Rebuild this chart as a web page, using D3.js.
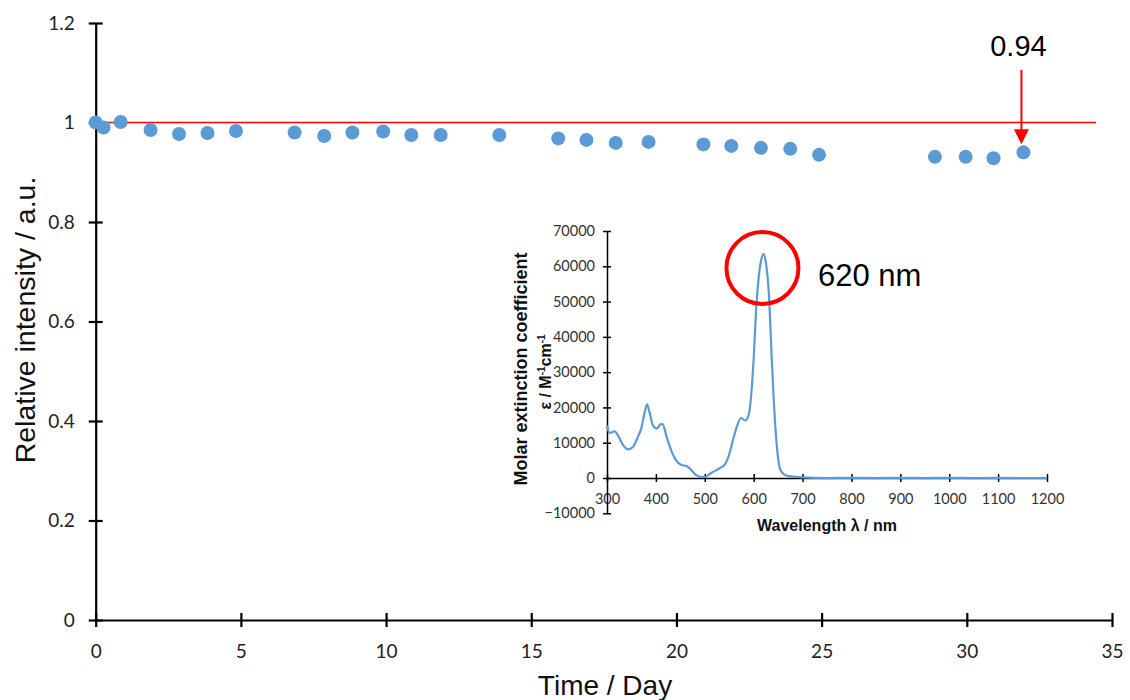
<!DOCTYPE html>
<html>
<head>
<meta charset="utf-8">
<script src="https://cdn.jsdelivr.net/npm/d3@7"></script>
<style>
  html, body { margin: 0; padding: 0; background: #fff; }
  svg { display: block; }
</style>
</head>
<body>
<svg id="chart" width="1130" height="700"></svg>
<script>
// Stability measurement: relative intensity over time
const days = [0, 0.27, 0.86, 1.89, 2.87, 3.85, 4.83, 6.85, 7.87, 8.84, 9.90, 10.87, 11.88, 13.90,
  15.93, 16.90, 17.91, 19.04, 20.93, 21.89, 22.91, 23.92, 24.91, 28.90, 29.96, 30.92, 31.95];
const intensity = [1.000, 0.990, 1.001, 0.985, 0.977, 0.979, 0.983, 0.980, 0.973, 0.980, 0.982, 0.975, 0.975, 0.975,
  0.968, 0.965, 0.959, 0.961, 0.956, 0.953, 0.949, 0.947, 0.935, 0.931, 0.931, 0.928, 0.94];
const xTicks = [0, 5, 10, 15, 20, 25, 30, 35];
const yTicks = [0, 0.2, 0.4, 0.6, 0.8, 1, 1.2];
const referenceLevel = 1;
const referenceEnd = 34.45;

// Absorption spectrum (inset)
const wavelength = [300, 305, 310, 315, 322, 333, 343, 353, 363, 370, 377, 382, 387, 394, 402, 409, 414, 421,
  431, 441, 452, 463, 472, 482, 493, 500, 513, 522, 532, 539, 549, 559, 566, 574, 583, 590, 595, 600, 605,
  610, 615, 620, 625, 631, 637, 644, 649, 654, 660, 665, 680, 700, 750, 800, 850, 900, 950, 1000, 1050, 1100, 1150, 1200];
const epsilon = [14900, 12800, 12900, 13300, 12200, 9300, 8100, 8800, 11600, 14000, 18600, 20900, 18600, 14900,
  14000, 15200, 15300, 12100, 7900, 5100, 3700, 3400, 2300, 900, 300, 300, 1400, 2100, 2900, 3500, 6300,
  11500, 14700, 17000, 16300, 18000, 23600, 33800, 47800, 56500, 61500, 63500, 61000, 52400, 33800, 15200,
  6800, 2600, 1300, 800, 400, 200, 0, 60, 0, 30, 0, 60, 0, 20, 0, 0];
const waveTicks = [300, 400, 500, 600, 700, 800, 900, 1000, 1100, 1200];
const epsTicks = [-10000, 0, 10000, 20000, 30000, 40000, 50000, 60000, 70000];
const peakWavelength = 620;

const svg = d3.select("#chart");
const blue = "#5b9bd5";
const red = "#ff0000";
const tickFont = "Lato, 'Open Sans', sans-serif";
const titleFont = "'Liberation Sans', Arial, sans-serif";

// ---- main chart ----
const x = d3.scaleLinear().domain([0, 35]).range([95.7, 1112]);
const y = d3.scaleLinear().domain([0, 1.2]).range([620, 23]);

function styleAxis(g, size, color) {
  g.select(".domain").attr("stroke", "#000").attr("stroke-width", 2.2);
  g.selectAll(".tick line").attr("stroke", "#000").attr("stroke-width", 2.2);
  g.selectAll(".tick text").attr("font-family", tickFont).attr("font-size", size).attr("fill", color);
}

const xAxis = svg.append("g")
  .attr("transform", `translate(0,${y(0)})`)
  .call(d3.axisBottom(x).tickValues(xTicks).tickSize(7).tickSizeOuter(0).tickPadding(18).tickFormat(d3.format("d")));
xAxis.selectAll(".tick line").attr("y1", -7);
styleAxis(xAxis, 19, "#222");

const yAxis = svg.append("g")
  .attr("transform", `translate(${x(0)},0)`)
  .call(d3.axisLeft(y).tickValues(yTicks).tickSize(7).tickSizeOuter(0).tickPadding(14).tickFormat(d => d3.format("~g")(d)));
yAxis.selectAll(".tick line").attr("x1", 7);
styleAxis(yAxis, 19, "#222");

svg.append("text")
  .attr("x", 605).attr("y", 695)
  .attr("text-anchor", "middle")
  .attr("font-family", titleFont).attr("font-size", 28).attr("fill", "#111")
  .text("Time / Day");

svg.append("text")
  .attr("transform", "translate(35,320) rotate(-90)")
  .attr("text-anchor", "middle")
  .attr("font-family", titleFont).attr("font-size", 28.5).attr("fill", "#111")
  .text("Relative intensity / a.u.");

// reference line at full intensity
svg.append("line")
  .attr("x1", x(0)).attr("x2", x(referenceEnd))
  .attr("y1", y(referenceLevel)).attr("y2", y(referenceLevel))
  .attr("stroke", red).attr("stroke-width", 1.5);

const pts = days.map((d, i) => ({ day: d, value: intensity[i] }));
svg.append("g").selectAll("circle")
  .data(pts).join("circle")
  .attr("cx", d => x(d.day)).attr("cy", d => y(d.value))
  .attr("r", 7).attr("fill", blue);

// annotation of the final value
const last = pts[pts.length - 1];
const ax = x(last.day) - 2;
const tipY = y(last.value) - 8;
svg.append("line")
  .attr("x1", ax).attr("x2", ax).attr("y1", 70).attr("y2", tipY - 14)
  .attr("stroke", red).attr("stroke-width", 2);
svg.append("path")
  .attr("d", `M${ax - 7.5},${tipY - 15} L${ax + 7.5},${tipY - 15} L${ax},${tipY} Z`)
  .attr("fill", red);
svg.append("text")
  .attr("x", ax - 3).attr("y", 56)
  .attr("text-anchor", "middle")
  .attr("font-family", titleFont).attr("font-size", 29).attr("fill", "#000")
  .text(d3.format(".2f")(last.value));

// ---- inset spectrum ----
const ix = d3.scaleLinear().domain([300, 1200]).range([607, 1047]);
const iy = d3.scaleLinear().domain([-10000, 70000]).range([513.3, 231]);

const ixAxis = svg.append("g")
  .attr("transform", `translate(0,${iy(0)})`)
  .call(d3.axisBottom(ix).tickValues(waveTicks).tickSize(4).tickSizeOuter(0).tickPadding(12).tickFormat(d3.format("d")));
ixAxis.select(".domain").attr("stroke", "#000").attr("stroke-width", 1.5);
ixAxis.selectAll(".tick line").attr("y1", -4).attr("stroke", "#000").attr("stroke-width", 1.5);
ixAxis.selectAll(".tick text").attr("font-family", tickFont).attr("font-size", 14.5).attr("fill", "#333");

const iyAxis = svg.append("g")
  .attr("transform", `translate(${ix(300)},0)`)
  .call(d3.axisLeft(iy).tickValues(epsTicks).tickSize(4).tickSizeOuter(0).tickPadding(8).tickFormat(d3.format("d")));
iyAxis.select(".domain").attr("stroke", "#000").attr("stroke-width", 1.5);
iyAxis.selectAll(".tick line").attr("x1", 4).attr("stroke", "#000").attr("stroke-width", 1.5);
iyAxis.selectAll(".tick text").attr("font-family", tickFont).attr("font-size", 14.5).attr("fill", "#333");

const spec = wavelength.map((w, i) => ({ w, e: epsilon[i] }));
svg.append("path")
  .datum(spec)
  .attr("fill", "none").attr("stroke", blue).attr("stroke-width", 2.2)
  .attr("d", d3.line().x(d => ix(d.w)).y(d => iy(d.e)).curve(d3.curveMonotoneX));

svg.append("text")
  .attr("x", 827).attr("y", 531)
  .attr("text-anchor", "middle")
  .attr("font-family", titleFont).attr("font-weight", "bold").attr("font-size", 16).attr("fill", "#111")
  .text("Wavelength λ / nm");

svg.append("text")
  .attr("transform", "translate(527,369) rotate(-90)")
  .attr("text-anchor", "middle")
  .attr("font-family", titleFont).attr("font-weight", "bold").attr("font-size", 18).attr("fill", "#111")
  .text("Molar extinction coefficient");

const yt2 = svg.append("text")
  .attr("transform", "translate(551,372) rotate(-90)")
  .attr("text-anchor", "middle")
  .attr("font-family", titleFont).attr("font-weight", "bold").attr("font-size", 16).attr("fill", "#111");
yt2.append("tspan").text("ε / M");
yt2.append("tspan").attr("font-size", 10).attr("dy", -6).text("-1");
yt2.append("tspan").attr("dy", 6).text("cm");
yt2.append("tspan").attr("font-size", 10).attr("dy", -6).text("-1");

// highlight of the absorption maximum
svg.append("circle")
  .attr("cx", ix(peakWavelength) - 1).attr("cy", iy(59500))
  .attr("r", 36).attr("fill", "none").attr("stroke", red).attr("stroke-width", 4);
svg.append("text")
  .attr("x", 818).attr("y", 286)
  .attr("font-family", titleFont).attr("font-size", 31).attr("fill", "#000")
  .text(`${peakWavelength} nm`);
</script>
</body>
</html>
